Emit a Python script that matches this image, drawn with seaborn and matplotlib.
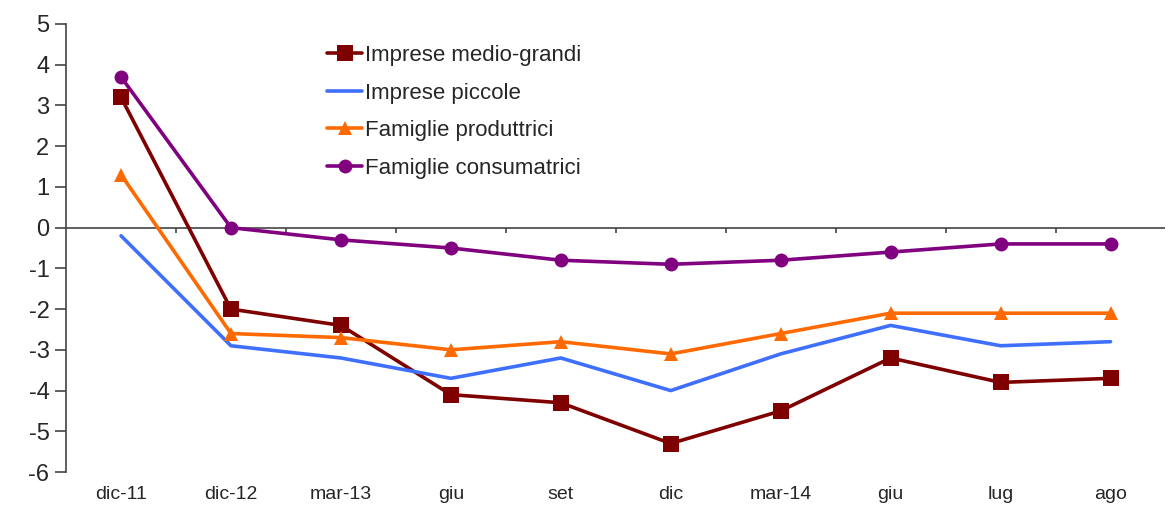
import numpy as np
import pandas as pd
import matplotlib
matplotlib.use("Agg")
import matplotlib.pyplot as plt
import seaborn as sns

# ── Data ──────────────────────────────────────────────────────────────────────
periods = ["dic-11", "dic-12", "mar-13", "giu", "set", "dic", "mar-14", "giu", "lug", "ago"]
medio_grandi = [3.2, -2.0, -2.4, -4.1, -4.3, -5.3, -4.5, -3.2, -3.8, -3.7]
piccole      = [-0.2, -2.9, -3.2, -3.7, -3.2, -4.0, -3.1, -2.4, -2.9, -2.8]
produttrici  = [1.3, -2.6, -2.7, -3.0, -2.8, -3.1, -2.6, -2.1, -2.1, -2.1]
consumatrici = [3.7, 0.0, -0.3, -0.5, -0.8, -0.9, -0.8, -0.6, -0.4, -0.4]

series = [
    ("Imprese medio-grandi", medio_grandi, "#7F0000", "s", 11),
    ("Imprese piccole",      piccole,      "#3F6FFF", None, 0),
    ("Famiglie produttrici", produttrici,  "#FF6A00", "^", 10),
    ("Famiglie consumatrici", consumatrici, "#800080", "o", 10),
]

sns.set_style("white")
plt.rcParams["font.family"] = ["Liberation Sans", "DejaVu Sans"]
plt.rcParams["axes.unicode_minus"] = False

fig = plt.figure(figsize=(11.69, 5.05), dpi=100)
ax = fig.add_axes([0.0565, 0.0653, 0.9405, 0.8872])

x = np.arange(len(periods))
for name, vals, color, marker, ms in series:
    sns.lineplot(x=x, y=vals, ax=ax, color=color, lw=2.6, marker=marker,
                 markersize=ms, markeredgewidth=0, label=name)

# zero line with category separators
ax.axhline(0, color="#444444", lw=1.2, zorder=0)
ax.vlines(x[:-1] + 0.5, -0.12, 0, color="#444444", lw=1.2, zorder=0)

ax.set_xlim(-0.5, len(periods) - 0.5)
ax.set_ylim(-6, 5)
ax.set_yticks(range(-6, 6))
ax.set_xticks(x)
ax.set_xticklabels(periods, fontsize=14)
ax.tick_params(axis="x", length=0, pad=10)
ax.tick_params(axis="y", direction="out", length=8, width=1.2, color="#444444",
               labelsize=17, left=True, pad=4)
for s in ["top", "right", "bottom"]:
    ax.spines[s].set_visible(False)
ax.spines["left"].set_color("#444444")
ax.spines["left"].set_linewidth(1.2)

ax.legend(loc="upper left", bbox_to_anchor=(0.219, 0.998), frameon=False,
          fontsize=16, handlelength=1.6, handletextpad=0.1, labelspacing=0.75)

fig.savefig("out.png", dpi=100)
